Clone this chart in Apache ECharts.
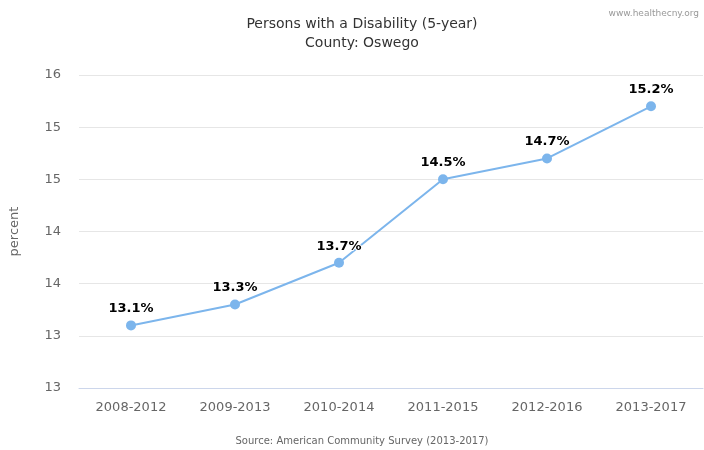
<!DOCTYPE html>
<html><head><meta charset="utf-8">
<script src="https://cdn.jsdelivr.net/npm/echarts@6/dist/echarts.min.js"></script>
<style>html,body{margin:0;padding:0;background:#fff}#c{width:704px;height:450px}</style>
</head><body><div id="c"></div>
<script>
const categories = ['2008-2012','2009-2013','2010-2014','2011-2015','2012-2016','2013-2017'];
const values = [13.1, 13.3, 13.7, 14.5, 14.7, 15.2];
const titleText = 'Persons with a Disability (5-year)';
const subtitleText = 'County: Oswego';
const sourceText = 'Source: American Community Survey (2013-2017)';
const creditText = 'www.healthecny.org';
const yName = 'percent';

const chart = echarts.init(document.getElementById('c'), null, {renderer:'canvas'});
const font = '"DejaVu Sans", "Open Sans", sans-serif';
chart.setOption({
  animation: false,
  backgroundColor: '#fff',
  title: [
    {text: titleText + '\n' + subtitleText, textAlign: 'center', left: 357, top: 10,
     textStyle: {fontFamily: font, fontSize: 14, fontWeight: 'normal', color: '#333', lineHeight: 19}},
    {text: sourceText, left: 357, textAlign: 'center', top: 431,
     textStyle: {fontFamily: font, fontSize: 10, fontWeight: 'normal', color: '#666'}},
    {text: creditText, right: 0, top: 4,
     textStyle: {fontFamily: font, fontSize: 9, fontWeight: 'normal', color: '#999'}}
  ],
  grid: {left: 78, right: 1, top: 75, bottom: 62, containLabel: false},
  xAxis: {
    type: 'category', data: categories, boundaryGap: true,
    axisLine: {show: true, lineStyle: {color: '#ccd6eb'}},
    axisTick: {show: false},
    axisLabel: {fontFamily: font, fontSize: 13, color: '#666', margin: 13}
  },
  yAxis: {
    type: 'value', min: 12.5, max: 15.5, interval: 0.5,
    name: yName, nameLocation: 'middle', nameGap: 58, nameRotate: 90,
    nameTextStyle: {fontFamily: font, fontSize: 13, color: '#666'},
    axisLine: {show: false}, axisTick: {show: false},
    axisLabel: {fontFamily: font, fontSize: 13, color: '#666', margin: 18,
      formatter: v => String(Math.round(v))},
    splitLine: {lineStyle: {color: '#e6e6e6'}}
  },
  series: [{
    type: 'line', data: values,
    symbol: 'circle', symbolSize: 10,
    lineStyle: {color: '#7cb5ec', width: 2},
    itemStyle: {color: '#7cb5ec'},
    label: {show: true, position: 'top', distance: 5,
      formatter: p => p.value.toFixed(1) + '%',
      fontFamily: font, fontSize: 13, fontWeight: 'bold', color: '#000',
      textBorderColor: '#fff', textBorderWidth: 2}
  }]
});
</script></body></html>
